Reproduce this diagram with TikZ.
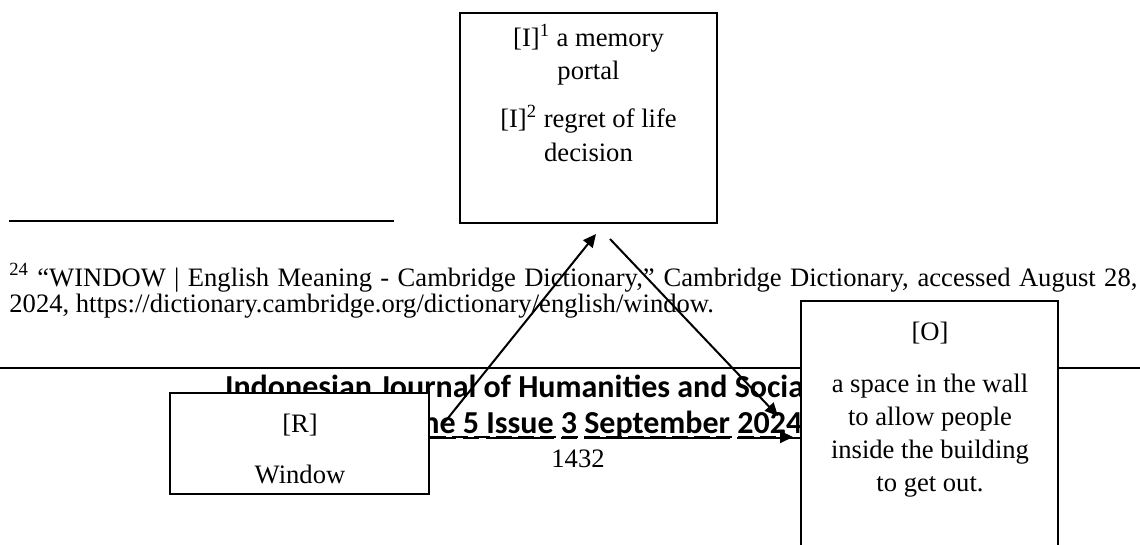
\documentclass[tikz,border=0pt]{standalone}
\usepackage{fontspec}
\setmainfont{Liberation Serif}
\newfontfamily\hdrfont{Carlito}
\usetikzlibrary{arrows.meta,calc}

% underline one word at a fixed depth below the baseline
\newcommand\wordul[1]{\setbox0\hbox{#1}\rlap{\rule[-3pt]{\wd0}{0.9pt}}\box0\relax}

\tikzset{
  bodytxt/.style={font=\fontsize{13.3}{16.5}\selectfont, inner sep=0pt, anchor=base},
  hdrtxt/.style={font=\hdrfont\bfseries\fontsize{16}{19}\selectfont, inner sep=0pt, anchor=base},
  boxnode/.style={draw, line width=1pt, fill=white, inner sep=0pt},
  rulerline/.style={line width=1pt},
  conn/.style={line width=1pt, -{Triangle[length=6.5pt,width=6pt]}},
}

\begin{document}
\begin{tikzpicture}[x=0.5pt,y=-0.5pt]
\useasboundingbox (0,0) rectangle (1140,545);
\clip (0,0) rectangle (1140,545);

% footnote separator and footnote text
\coordinate (fnA) at (9,221);
\coordinate (fnB) at (394,221);
\draw[rulerline] (fnA) -- (fnB);
\node[bodytxt, anchor=base west] (fn1) at (9,286)
  {\makebox[564pt][s]{\textsuperscript{24} “WINDOW | English Meaning - Cambridge Dictionary,” Cambridge Dictionary, accessed August 28,}};
\node[bodytxt, anchor=base west] (fn2) at (9,313)
  {2024, https://dictionary.cambridge.org/dictionary/english/window.};

% running footer: rule, journal title, issue, page number
\coordinate (hrA) at (0,368);
\coordinate (hrB) at (1140,368);
\draw[rulerline] (hrA) -- (hrB);
\node[hdrtxt] (hd1) at (578,397) {Indonesian Journal of Humanities and Social Sciences};
\node[hdrtxt] (hd2) at (578,433)
  {\wordul{Volume} \wordul{5} \wordul{Issue} \wordul{3} \wordul{September} \wordul{2024}};
\node[bodytxt] (pg) at (578,467) {1432};

% interpretant box
\node[boxnode, minimum width=128.5pt, minimum height=105pt] (I) at (588.5,118) {};
\node[bodytxt] (i1) at (588.5,47) {[I]\textsuperscript{1} a memory};
\node[bodytxt] (i2) at (588.5,80) {portal};
\node[bodytxt] (i3) at (588.5,128) {[I]\textsuperscript{2} regret of life};
\node[bodytxt] (i4) at (588.5,162) {decision};

% representamen box
\node[boxnode, minimum width=129.5pt, minimum height=50.5pt] (R) at (299.5,443.5) {};
\node[bodytxt] (r1) at (300,432) {[R]};
\node[bodytxt] (r2) at (300,483) {Window};

% object box (runs past the lower edge)
\node[boxnode, minimum width=128.5pt, minimum height=140pt] (O) at (929.5,441) {};
\node[bodytxt] (o1) at (930,340) {[O]};
\node[bodytxt] (o2) at (930,392) {a space in the wall};
\node[bodytxt] (o3) at (930,425) {to allow people};
\node[bodytxt] (o4) at (930,458) {inside the building};
\node[bodytxt] (o5) at (930,491) {to get out.};

% connector end points
\coordinate (rUp) at ($(R.east)+(14,-20.5)$);
\coordinate (iIn) at ($(I.south)+(7.5,10)$);
\coordinate (iOut) at ($(I.south)+(21.5,15)$);
\coordinate (oIn) at ($(O.west)+(-22,-25)$);
\coordinate (rOut) at ($(R.east)+(0,-6.5)$);
\coordinate (oSide) at ($(O.west)+(-7,-4)$);

\draw[conn] (rUp) -- (iIn);
\draw[conn] (iOut) -- (oIn);
\draw[conn, dash pattern=on 8pt off 3pt] (rOut) -- (oSide);
\end{tikzpicture}
\end{document}
